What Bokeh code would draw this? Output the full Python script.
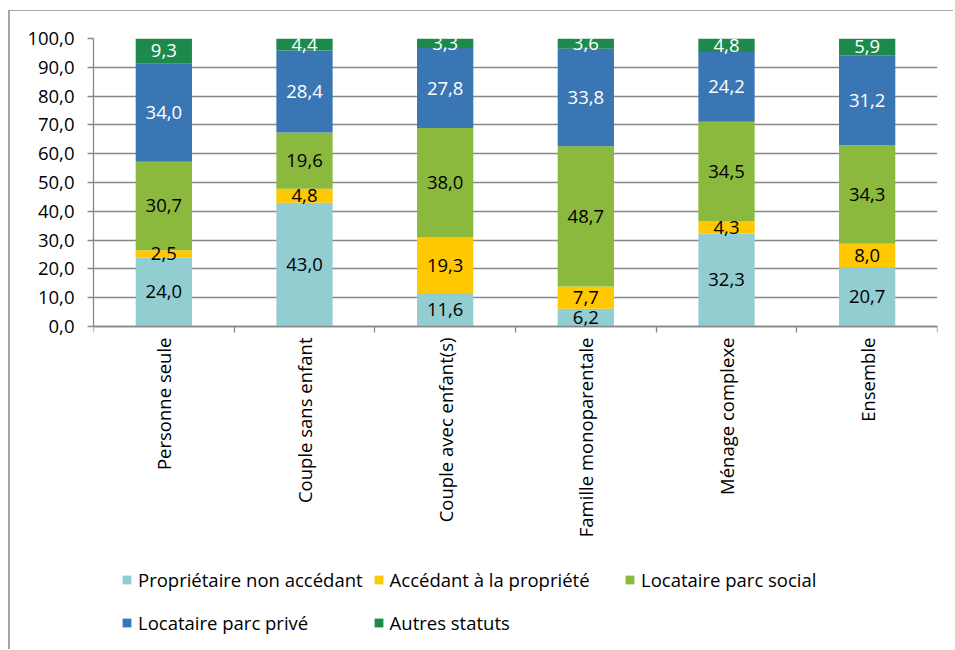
import math
import numpy as np
from bokeh.plotting import figure
from bokeh.models import Range1d, FixedTicker, Legend, LegendItem, ColumnDataSource
from bokeh.core.properties import value
from bokeh.embed import file_html
from bokeh.resources import INLINE

# Household types (x categories)
categories = [
    "Personne seule",
    "Couple sans enfant",
    "Couple avec enfant(s)",
    "Famille monoparentale",
    "Ménage complexe",
    "Ensemble",
]

# Occupancy status shares (%) per household type
series_names = [
    "Propriétaire non accédant",
    "Accédant à la propriété",
    "Locataire parc social",
    "Locataire parc privé",
    "Autres statuts",
]
proprietaire_non_accedant = [24.0, 43.0, 11.6, 6.2, 32.3, 20.7]
accedant_propriete = [2.5, 4.8, 19.3, 7.7, 4.3, 8.0]
locataire_parc_social = [30.7, 19.6, 38.0, 48.7, 34.5, 34.3]
locataire_parc_prive = [34.0, 28.4, 27.8, 33.8, 24.2, 31.2]
autres_statuts = [9.3, 4.4, 3.3, 3.6, 4.8, 5.9]

y_ticks = [0, 10, 20, 30, 40, 50, 60, 70, 80, 90, 100]
y_tick_labels = ["0,0", "10,0", "20,0", "30,0", "40,0", "50,0",
                 "60,0", "70,0", "80,0", "90,0", "100,0"]

colors = ["#92CDD2", "#FFC800", "#8BB93E", "#3A76B4", "#1D8A4C"]
label_colors = ["#000000", "#000000", "#000000", "#FFFFFF", "#FFFFFF"]

FONT = "Open Sans"
FSIZE = "18.5px"
GRID = "#878787"

# layout (px): the frame runs from the top of the value scale down to the
# bottom of the page, so the category labels and legend live inside it
W, H = 945, 639
TOP, LEFT, RIGHT = 27, 83, 18
SCALE_H = 288                      # pixel height of the 0..100 scale
y_start = -(H - TOP - SCALE_H) * 100 / SCALE_H

series = [proprietaire_non_accedant, accedant_propriete, locataire_parc_social,
          locataire_parc_prive, autres_statuts]
keys = [f"s{i}" for i in range(len(series))]

# bars sit in the middle of unit-wide category slots
xpos = [i + 0.5 for i in range(len(categories))]
source = ColumnDataSource(dict(x=xpos, **{k: v for k, v in zip(keys, series)}))

p = figure(
    width=W, height=H,
    x_range=Range1d(0, len(categories)), y_range=Range1d(y_start, 100),
    output_backend="svg", toolbar_location=None,
    min_border_left=LEFT, min_border_right=RIGHT, min_border_top=TOP, min_border_bottom=0,
    outline_line_color=None, background_fill_color="white", border_fill_color="white",
    styles={"margin-left": "8px", "margin-top": "10px",
            "border-left": "2px solid #A6A6A6", "border-top": "1px solid #A6A6A6"},
)

bars = p.vbar_stack(keys, x="x", width=0.4, source=source, color=colors,
                    line_color=None)

# value labels at the middle of each stacked segment
bottoms = np.zeros(len(categories))
for vals, tcol in zip(series, label_colors):
    vals = np.array(vals)
    mids = bottoms + vals / 2
    bottoms = bottoms + vals
    p.text(x=xpos, y=mids, text=[f"{v:.1f}".replace(".", ",") for v in vals],
           text_align="center", text_baseline="middle", text_color=tcol,
           text_font=value(FONT), text_font_size=FSIZE)

# grid, limited to the value scale
p.xgrid.visible = False
p.ygrid.ticker = FixedTicker(ticks=y_ticks)
p.ygrid.bounds = (0, 100)
p.ygrid.grid_line_color = GRID
p.ygrid.grid_line_width = 1.3

# y axis
yax = p.yaxis[0]
yax.ticker = FixedTicker(ticks=y_ticks)
yax.bounds = (0, 100)
yax.major_label_overrides = {t: lab for t, lab in zip(y_ticks, y_tick_labels)}
yax.axis_line_color = GRID
yax.axis_line_width = 1.3
yax.major_tick_line_color = GRID
yax.major_tick_line_width = 1.3
yax.major_tick_out = 6
yax.major_tick_in = 0
yax.minor_tick_line_color = None
yax.major_label_standoff = 13
yax.major_label_text_font = FONT
yax.major_label_text_font_size = FSIZE
yax.major_label_text_color = "#000000"

# x axis pinned at 0: labels at slot centres, ticks at slot boundaries
xax = p.xaxis[0]
xax.fixed_location = 0
xax.ticker = FixedTicker(ticks=xpos, minor_ticks=list(range(len(categories) + 1)))
xax.major_label_overrides = {x: c for x, c in zip(xpos, categories)}
xax.major_label_orientation = math.pi / 2
xax.axis_line_color = GRID
xax.axis_line_width = 1.3
xax.major_tick_line_color = None
xax.major_tick_out = 6
xax.minor_tick_line_color = GRID
xax.minor_tick_line_width = 1.3
xax.minor_tick_out = 6
xax.minor_tick_in = 0
xax.major_label_standoff = 5
xax.major_label_text_font = FONT
xax.major_label_text_font_size = FSIZE
xax.major_label_text_color = "#000000"

# legend: two rows of three columns under the category labels
col_x = [28, 279.6, 531]
row_y = [58.5, 15.5]
for i, (name, r) in enumerate(zip(series_names, bars)):
    row, col = divmod(i, 3)
    leg = Legend(
        items=[LegendItem(label=name, renderers=[r])],
        location=(col_x[col], row_y[row]),
        orientation="horizontal",
        glyph_width=11, glyph_height=11, label_standoff=6,
        padding=0, margin=0, spacing=0,
        border_line_color=None, background_fill_alpha=0,
        label_text_font=FONT, label_text_font_size=FSIZE,
        label_text_color="#000000",
    )
    p.add_layout(leg, "center")

open("out.html", "w").write(file_html(p, INLINE))
